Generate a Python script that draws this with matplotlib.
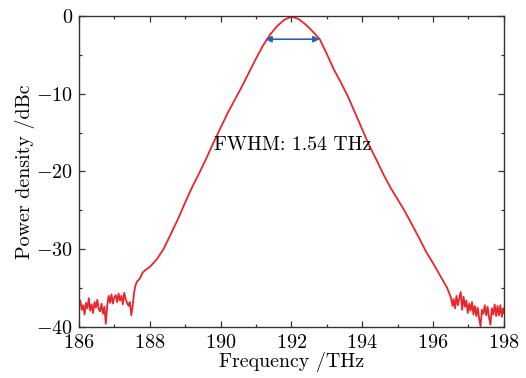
import matplotlib
matplotlib.use('Agg')
import matplotlib.pyplot as plt
from matplotlib.ticker import MultipleLocator

plt.rcParams['font.family'] = 'serif'
plt.rcParams['font.serif'] = ['cmr10']
plt.rcParams['mathtext.fontset'] = 'cm'
plt.rcParams['axes.formatter.use_mathtext'] = True

# spectrum (THz, dBc)
freq_left_floor = [186.00, 186.04, 186.08, 186.12, 186.16, 186.20, 186.24, 186.28,
                   186.32, 186.36, 186.40, 186.44, 186.48, 186.52, 186.56, 186.60,
                   186.64, 186.68, 186.72, 186.76, 186.80, 186.84, 186.88, 186.92,
                   186.96, 187.00, 187.04, 187.08, 187.12, 187.16, 187.20, 187.24,
                   187.28, 187.32, 187.36, 187.40, 187.44, 187.48]
pow_left_floor = [-37.0, -36.6, -37.8, -37.2, -38.4, -36.9, -37.6, -36.3,
                  -37.9, -37.1, -38.2, -36.8, -37.5, -36.5, -37.7, -38.0,
                  -37.0, -38.3, -37.4, -39.6, -37.2, -36.0, -36.9, -35.8,
                  -37.0, -36.2, -35.9, -36.8, -35.7, -36.6, -36.0, -37.1,
                  -35.6, -36.4, -36.9, -37.3, -36.8, -38.5]

freq_main = [187.52, 187.56, 187.60, 187.65, 187.70, 187.75, 187.80, 187.90,
             188.00, 188.20, 188.40, 188.60, 188.80, 189.00, 189.20, 189.40,
             189.60, 189.80, 190.00, 190.20, 190.40, 190.60, 190.80, 191.00,
             191.20, 191.40, 191.60, 191.80, 192.00, 192.20, 192.40, 192.60,
             192.80, 193.00, 193.20, 193.40, 193.60, 193.80, 194.00, 194.20,
             194.40, 194.60, 194.80, 195.00, 195.20, 195.40, 195.60, 195.80,
             196.00, 196.20, 196.40, 196.50, 196.55]
pow_main = [-37.2, -35.5, -34.6, -34.1, -33.9, -33.5, -33.0, -32.6,
            -32.3, -31.3, -29.9, -28.0, -26.1, -24.0, -22.0, -20.2,
            -18.3, -16.3, -14.4, -12.5, -10.8, -9.1, -7.3, -5.5,
            -3.8, -2.4, -1.3, -0.5, -0.1, -0.4, -1.1, -2.0,
            -3.0, -4.9, -6.9, -8.6, -10.4, -12.5, -14.6, -16.7,
            -18.5, -20.4, -22.1, -23.6, -25.1, -26.8, -28.5, -30.3,
            -31.8, -33.4, -35.0, -36.2, -37.3]

freq_right_floor = [196.58, 196.62, 196.66, 196.70, 196.74, 196.78, 196.82, 196.86,
                    196.90, 196.94, 196.98, 197.02, 197.06, 197.10, 197.14, 197.18,
                    197.22, 197.26, 197.30, 197.34, 197.38, 197.42, 197.46, 197.50,
                    197.54, 197.58, 197.62, 197.66, 197.70, 197.74, 197.78, 197.82,
                    197.86, 197.90, 197.94, 197.98, 198.00]
pow_right_floor = [-36.4, -37.6, -36.0, -37.2, -36.3, -35.5, -37.8, -36.1,
                   -37.4, -36.6, -38.2, -37.0, -37.9, -36.8, -38.4, -37.3,
                   -38.6, -37.5, -38.9, -39.9, -37.8, -38.3, -37.2, -38.5,
                   -37.4, -38.8, -39.7, -37.6, -38.4, -37.1, -38.6, -37.3,
                   -38.5, -37.2, -38.7, -37.6, -38.2]

fwhm_lo, fwhm_hi, fwhm_level = 191.26, 192.80, -3.0

freq = freq_left_floor + freq_main + freq_right_floor
power = pow_left_floor + pow_main + pow_right_floor

fig = plt.figure(figsize=(5.26, 3.78), dpi=100)
ax = fig.add_axes([0.150, 0.135, 0.808, 0.823])

ax.plot(freq, power, color='#e8262b', lw=1.3)
ax.annotate('', xy=(fwhm_lo, fwhm_level), xytext=(fwhm_hi, fwhm_level),
            arrowprops=dict(arrowstyle='<|-|>', color='#2f5fb3', lw=1.2,
                            mutation_scale=9, shrinkA=0, shrinkB=0))
ax.text(189.82, -16.6, 'FWHM: 1.54 THz', fontsize=14.2, va='center', ha='left')

ax.set_xlim(186, 198)
ax.set_ylim(-40, 0)
ax.xaxis.set_major_locator(MultipleLocator(2))
ax.xaxis.set_minor_locator(MultipleLocator(1))
ax.yaxis.set_major_locator(MultipleLocator(10))
ax.yaxis.set_minor_locator(MultipleLocator(5))
ax.tick_params(which='both', direction='in', top=True, right=True,
               color='#333333', width=0.9, labelsize=14.5)
ax.tick_params(axis='x', pad=5)
ax.tick_params(axis='y', pad=4)
ax.tick_params(which='major', length=4)
ax.tick_params(which='minor', length=2.2)
for sp in ax.spines.values():
    sp.set_color('#333333')
    sp.set_linewidth(1.0)

ax.set_xlabel('Frequency /THz', fontsize=14.4, labelpad=0)
ax.set_ylabel('Power density /dBc', fontsize=14.4, labelpad=1)

fig.savefig('out.png', dpi=100)
